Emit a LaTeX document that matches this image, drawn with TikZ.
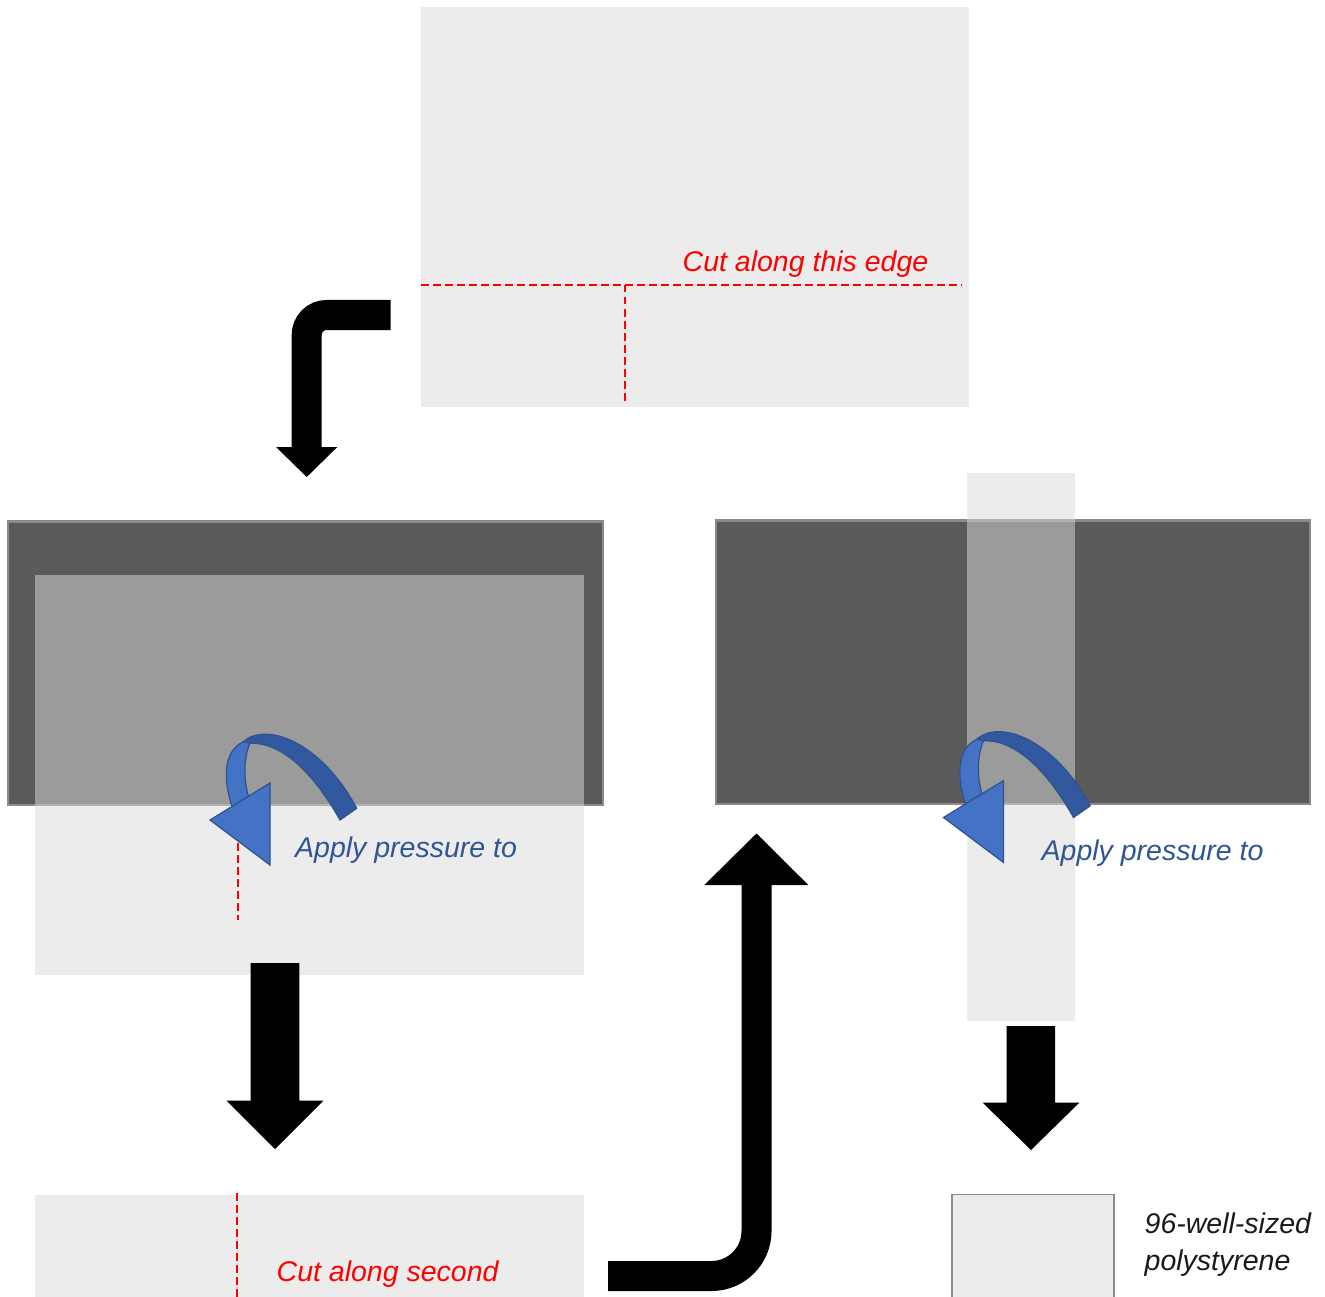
\documentclass[tikz,border=0pt]{standalone}
\usepackage{fontspec}
\setmainfont{Liberation Sans}
\definecolor{sheet}{HTML}{ECECEC}
\definecolor{film}{HTML}{DADADA}
\definecolor{plate}{HTML}{5A5A5A}
\definecolor{plateedge}{HTML}{8A8A8A}
\definecolor{boxedge}{HTML}{8C8C8C}
\definecolor{frontblue}{HTML}{4472C4}
\definecolor{backblue}{HTML}{3258A0}
\definecolor{blueedge}{HTML}{2F528F}
\definecolor{pressblue}{HTML}{2F5597}
\begin{document}
\begin{tikzpicture}[x=1pt,y=-1pt,
  cutline/.style={draw=red, line width=2pt, dash pattern=on 7.5pt off 4.5pt},
  cutlabel/.style={text=red, font=\fontsize{28.5}{34}\selectfont\itshape, inner sep=0pt, anchor=base west},
  presslabel/.style={text=pressblue, font=\fontsize{28.5}{34}\selectfont\itshape, inner sep=0pt, anchor=base west},
  notelabel/.style={text=black!90, font=\fontsize{28.5}{34}\selectfont\itshape, inner sep=0pt, anchor=base west},
  platebox/.style={fill=plate, draw=plateedge, line width=2.5pt},
  filmbox/.style={fill=film, fill opacity=0.51},
  flowline/.style={draw=black, line width=30pt},
  flowhead/.style={fill=black},
  pics/twist/.style={code={
    % back face of the ribbon
    \fill[backblue, draw=blueedge, line width=1.2pt]
      (243.3,741.7) .. controls (265,722) and (320,740) .. (356.7,808.3)
      -- (340,820) .. controls (312,770) and (280,742) .. (250,743.3) -- cycle;
    % front face of the ribbon
    \fill[frontblue, draw=blueedge, line width=1.2pt]
      (232,806.5) .. controls (223.5,780) and (222.5,752) .. (243.3,741.7)
      -- (250,743.3) .. controls (243.5,758) and (243.5,780) .. (248.5,796.3) -- cycle;
    % arrow head
    \fill[frontblue, draw=blueedge, line width=1.2pt]
      (210,820) -- (270,783) -- (270,865) -- cycle;
  }}]
\useasboundingbox (0,0) rectangle (1325,1297);

% ---- step 1: sheet with the first cut lines ----
\fill[sheet] (421,7) rectangle (969,407);
\draw[cutline] (421,285) -- (962,285);
\draw[cutline] (625,285) -- (625,403);
\node[cutlabel] (cut1) at (682.5,271.5) {Cut along this edge};

% elbow arrow down to step 2
\draw[flowline, rounded corners=20pt] (390.7,315) -- (306.7,315) -- (306.7,447.5);
\fill[flowhead] (276,447) -- (337.3,447) -- (306.7,477) -- cycle;

% ---- step 2: sheet pressed onto the plate ----
\draw[platebox] (8,521.5) rectangle (603,805);
\fill[filmbox] (35,575) rectangle (584,975);
\draw[cutline] (237.7,807) -- (237.7,920);
\pic at (0,0) {twist};
\node[presslabel] (press1) at (295,857) {Apply pressure to};

% straight arrow down to step 3
\fill[flowhead] (250.7,963) -- (299.3,963) -- (299.3,1100.7) -- (323.3,1100.7)
  -- (275,1149) -- (226.7,1100.7) -- (250.7,1100.7) -- cycle;

% ---- step 3: second cut ----
\fill[sheet] (35,1195) rectangle (584,1297);
\draw[cutline] (237.3,1193) -- (237.3,1297);
\node[cutlabel] (cut2) at (276.5,1281.5) {Cut along second};

% elbow arrow up to step 4
\draw[flowline, rounded corners=45pt] (608,1276) -- (756.5,1276) -- (756.5,884.5);
\fill[flowhead] (704.3,885) -- (808.3,885) -- (756.5,833.5) -- cycle;

% ---- step 4: strip pressed onto the plate ----
\draw[platebox] (716,520.5) rectangle (1310,804);
\fill[filmbox] (967,473) rectangle (1075,1021);
\pic at (733.5,-2.5) {twist};
\node[presslabel] (press2) at (1041.5,860) {Apply pressure to};

% straight arrow down to the result
\fill[flowhead] (1006.7,1026) -- (1055,1026) -- (1055,1102.7) -- (1079.3,1102.7)
  -- (1031,1150) -- (982.7,1102.7) -- (1006.7,1102.7) -- cycle;

% ---- result ----
\draw[fill=sheet, draw=boxedge, line width=1.5pt] (952,1194.5) rectangle (1114,1300);
\node[notelabel] (note1) at (1144.5,1233) {96-well-sized};
\node[notelabel] (note2) at (1144.5,1270) {polystyrene};
\end{tikzpicture}
\end{document}
